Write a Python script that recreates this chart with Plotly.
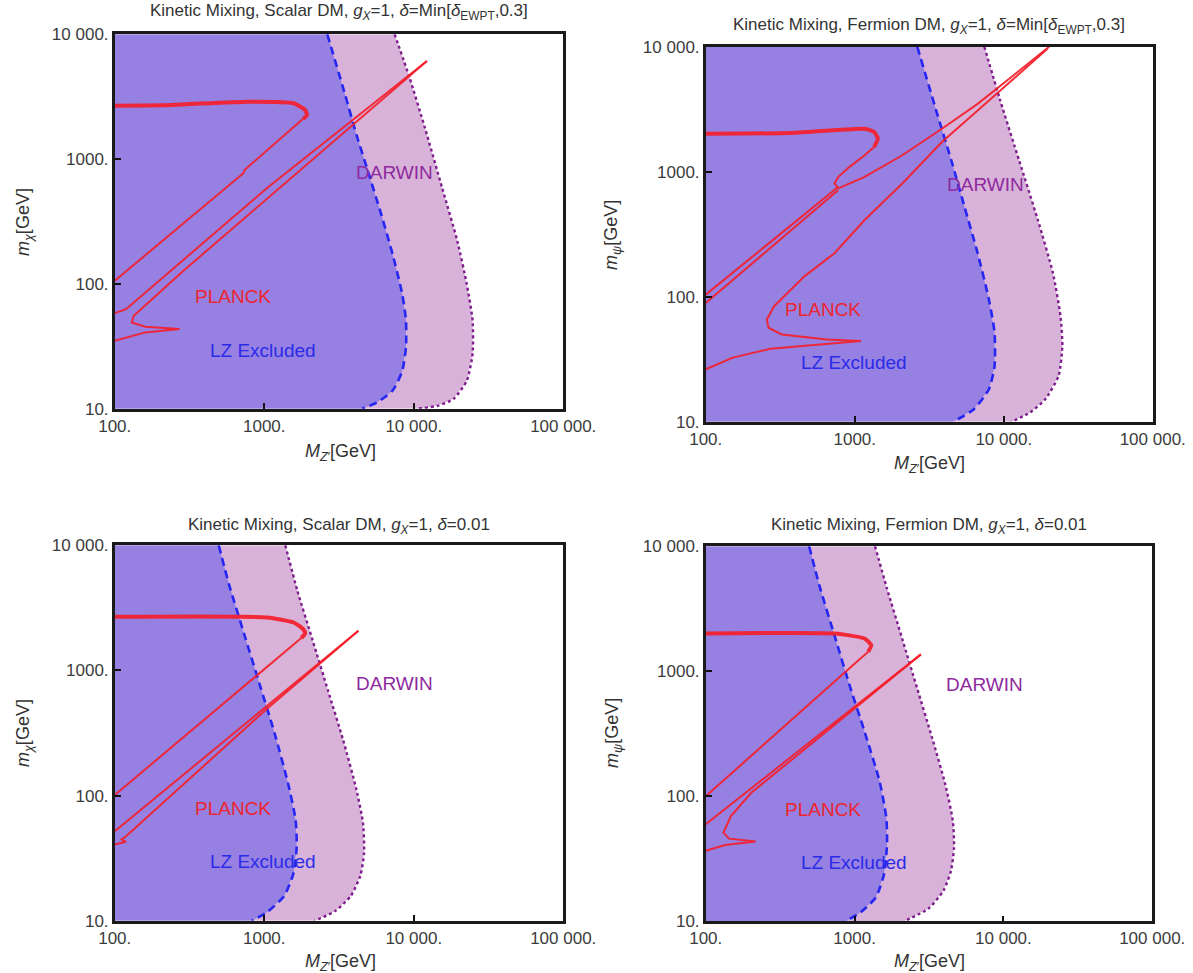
import math
import plotly.graph_objects as go

# ---------------- axes / ticks ----------------
X_MIN, X_MAX = 100, 100000
Y_MIN, Y_MAX = 10, 10000
x_tickvals = [100, 1000, 10000, 100000]
x_ticktext = ["100.", "1000.", "10 000.", "100 000."]
y_tickvals = [10, 100, 1000, 10000]
y_ticktext = ["10.", "100.", "1000.", "10 000."]

titles = [
    "Kinetic Mixing, Scalar DM, <i>g</i><sub><i>X</i></sub>=1, <i>δ</i>=Min[<i>δ</i><sub>EWPT</sub>,0.3]",
    "Kinetic Mixing, Fermion DM, <i>g</i><sub><i>X</i></sub>=1, <i>δ</i>=Min[<i>δ</i><sub>EWPT</sub>,0.3]",
    "Kinetic Mixing, Scalar DM, <i>g</i><sub><i>X</i></sub>=1, <i>δ</i>=0.01",
    "Kinetic Mixing, Fermion DM, <i>g</i><sub><i>X</i></sub>=1, <i>δ</i>=0.01",
]
ylabels = [
    "<i>m</i><sub><i>χ</i></sub>[GeV]",
    "<i>m</i><sub><i>ψ</i></sub>[GeV]",
    "<i>m</i><sub><i>χ</i></sub>[GeV]",
    "<i>m</i><sub><i>ψ</i></sub>[GeV]",
]
xlabel = "<i>M</i><sub><i>Z</i>\u2032</sub>[GeV]"

# ---------------- panel 1: scalar, delta=Min[dEWPT,0.3] ----------------
p1_lz_x = [2640, 3480, 4140, 4940, 6060, 7230, 8370, 8870, 8870, 8370, 7230, 5720, 4520]
p1_lz_y = [10000, 3260, 1560, 800, 360, 172, 83, 51, 31, 20, 14, 11.3, 10]
p1_darwin_x = [7450, 9410, 11890, 15490, 19580, 22650, 24750, 24750, 22650, 18470, 14600, 10570]
p1_darwin_y = [10000, 4430, 1770, 587, 220, 99, 51, 27.5, 16.8, 12, 10.6, 10]
p1_top_thick_x = [100, 241, 778, 1574, 1876, 1932, 1820]
p1_top_thick_y = [2680, 2716, 2884, 2800, 2477, 2259, 2100]
p1_top_thin_x = [1820, 740, 725, 100]
p1_top_thin_y = [2100, 820, 770, 106]
p1_band_a_x = [100, 119, 1045, 12250]
p1_band_a_y = [58.3, 62.8, 587, 6095]
p1_band_b_x = [100, 160, 271, 160, 130, 134, 287, 3795, 12250]
p1_band_b_y = [35.1, 40.9, 43.5, 45.4, 49.1, 55.6, 127, 1823, 6095]

# ---------------- panel 2: fermion, delta=Min[dEWPT,0.3] ----------------
p2_lz_x = [2630, 3520, 4445, 5450, 6680, 7950, 8675, 8675, 7950, 6300, 4575]
p2_lz_y = [10000, 3090, 1236, 525, 223, 95, 51.5, 27.9, 18.2, 12.6, 10]
p2_darwin_x = [7410, 9470, 12670, 16940, 21380, 24030, 24740, 23330, 19040, 15080, 11270]
p2_darwin_y = [10000, 3715, 1236, 411, 155, 70, 40.3, 23.3, 15.2, 11.9, 10]
p2_top_thick_x = [100, 364, 1165, 1349, 1429, 1349]
p2_top_thick_y = [2015, 2042, 2208, 2080, 1841, 1578]
p2_top_thin_x = [1349, 1165, 923, 776, 732, 776]
p2_top_thin_y = [1578, 1355, 1094, 910, 805, 736]
p2_line_c_x = [776, 1165, 2085, 3846, 6680, 20180]
p2_line_c_y = [736, 910, 1355, 2208, 3490, 10000]
p2_band_a_x = [100, 776]
p2_band_a_y = [104, 758]
p2_band_b_x = [100, 776]
p2_band_b_y = [89.3, 713]
p2_low_x = [100, 152, 272, 651, 1100, 651, 324, 264, 257, 288, 459, 731, 1165, 2085, 3846, 6680, 19590]
p2_low_y = [26.3, 32.6, 38.4, 41.6, 44.2, 45.6, 49.9, 56.5, 65.8, 84, 145.6, 223, 411, 805, 1730, 3090, 9580]

# ---------------- panel 3: scalar, delta=0.01 ----------------
p3_lz_x = [496, 581, 734, 929, 1174, 1441, 1620, 1649, 1573, 1360, 1044, 826]
p3_lz_y = [10000, 4870, 1952, 782, 313, 126, 64.2, 39.4, 24.2, 15.8, 11.7, 10]
p3_darwin_x = [1383, 1668, 2110, 2668, 3373, 4140, 4575, 4655, 4390, 3793, 2998, 2172]
p3_darwin_y = [10000, 4310, 1729, 692, 277, 111, 60.4, 34.9, 22.8, 15.8, 12.0, 10]
p3_top_thick_x = [100, 1044, 1574, 1820, 1876, 1769]
p3_top_thick_y = [2680, 2650, 2416, 2138, 1977, 1815]
p3_top_thin_x = [1769, 100]
p3_top_thin_y = [1815, 101]
p3_band_a_x = [4265, 1044, 100]
p3_band_a_y = [2074, 520, 51.9]
p3_band_b_x = [4265, 1044, 119, 111, 119, 100]
p3_band_b_y = [2074, 495, 47.3, 44.6, 42.7, 40.6]

# ---------------- panel 4: fermion, delta=0.01 ----------------
p4_lz_x = [495, 580, 732, 924, 1166, 1471, 1633, 1652, 1577, 1388, 1100, 871]
p4_lz_y = [10000, 4860, 1944, 777, 330, 132, 67.4, 41.3, 23.8, 15.5, 11.8, 10]
p4_darwin_x = [1372, 1652, 2086, 2632, 3322, 4072, 4575, 4656, 4444, 3954, 3133, 2147]
p4_darwin_y = [10000, 4575, 1828, 731, 292, 124, 63.4, 38.9, 25.3, 17.6, 12.6, 10]
p4_top_thick_x = [100, 732, 1166, 1294, 1236]
p4_top_thick_y = [2004, 2004, 1828, 1618, 1432]
p4_top_thin_x = [1236, 1100, 100]
p4_top_thin_y = [1432, 1268, 100]
p4_band_a_x = [2790, 100]
p4_band_a_y = [1365, 59.6]
p4_band_b_x = [2790, 731, 203, 147.6, 131.5, 143.5, 216, 135, 100]
p4_band_b_y = [1365, 373, 107, 69.5, 51.2, 45.8, 43.4, 40.8, 36.6]

# text label positions (GeV)
planck_pos = [(615, 79), (614, 79), (615, 79.4), (614, 78.5)]
lz_pos = [(984, 29.2), (990, 29.7), (984, 30), (990, 29.5)]
darwin_pos = [(7450, 787), (7500, 796), (7450, 793), (7500, 787)]

panels = [
    dict(lz=(p1_lz_x, p1_lz_y), dw=(p1_darwin_x, p1_darwin_y),
         thick=[(p1_top_thick_x, p1_top_thick_y)],
         thin=[(p1_top_thin_x, p1_top_thin_y), (p1_band_a_x, p1_band_a_y), (p1_band_b_x, p1_band_b_y)]),
    dict(lz=(p2_lz_x, p2_lz_y), dw=(p2_darwin_x, p2_darwin_y),
         thick=[(p2_top_thick_x, p2_top_thick_y)],
         thin=[(p2_top_thin_x, p2_top_thin_y), (p2_line_c_x, p2_line_c_y), (p2_band_a_x, p2_band_a_y),
               (p2_band_b_x, p2_band_b_y), (p2_low_x, p2_low_y)]),
    dict(lz=(p3_lz_x, p3_lz_y), dw=(p3_darwin_x, p3_darwin_y),
         thick=[(p3_top_thick_x, p3_top_thick_y)],
         thin=[(p3_top_thin_x, p3_top_thin_y), (p3_band_a_x, p3_band_a_y), (p3_band_b_x, p3_band_b_y)]),
    dict(lz=(p4_lz_x, p4_lz_y), dw=(p4_darwin_x, p4_darwin_y),
         thick=[(p4_top_thick_x, p4_top_thick_y)],
         thin=[(p4_top_thin_x, p4_top_thin_y), (p4_band_a_x, p4_band_a_y), (p4_band_b_x, p4_band_b_y)]),
]

# ---------------- layout geometry (page pixels of the target picture) ----------------
FIG_W, FIG_H = 1193, 973
PAGE_OFF = 0          # body margin removed by post_script below
LINE_W = 2.5
frames = [(113.5, 564.5, 33, 410), (704.5, 1154, 45.5, 423), (113.5, 564.5, 544, 922), (704.5, 1153.5, 545, 922.5)]
title_px = [(339, 12), (929, 26), (339, 526), (929, 526)]
xlabel_px = [(340, 452), (929, 464), (340, 962), (929, 962)]
ylabel_px = [(24, 222), (613, 235), (24, 733), (613, 733)]


def px2paper_x(px):
    return (px - PAGE_OFF) / FIG_W


def px2paper_y(py):
    return 1 - (py - PAGE_OFF) / FIG_H


LZ_FILL = "#9680E2"
DW_FILL = "#D8B2D8"
LZ_LINE = "#2626F2"
DW_LINE = "#7E1E8C"
RED = "rgba(244,30,42,0.92)"
FONT = "Liberation Sans, Arial, sans-serif"
TICK_COLOR = "#3c3c3c"

fig = go.Figure()
annotations = []
layout_axes = {}

for i, p in enumerate(panels):
    n = "" if i == 0 else str(i + 1)
    xa, ya = "x" + n, "y" + n
    l, r, t, b = frames[i]
    h = LINE_W / 2
    common = dict(ticks="inside", ticklen=6, tickwidth=1.5, tickcolor="#111",
                  showgrid=False, zeroline=False, automargin=False,
                  showline=True, linecolor="#1a1a1a", linewidth=LINE_W, mirror=True,
                  tickfont=dict(family=FONT, size=17, color=TICK_COLOR))
    layout_axes["xaxis" + n] = dict(
        type="log", range=[math.log10(X_MIN), math.log10(X_MAX)],
        domain=[px2paper_x(l + h), px2paper_x(r - h)], anchor=ya,
        tickvals=x_tickvals, ticktext=x_ticktext, **common)
    layout_axes["yaxis" + n] = dict(
        type="log", range=[math.log10(Y_MIN), math.log10(Y_MAX)],
        domain=[px2paper_y(b - h), px2paper_y(t + h)], anchor=xa,
        tickvals=y_tickvals, ticktext=y_ticktext, **common)

    dwx, dwy = p["dw"]
    lzx, lzy = p["lz"]
    fig.add_trace(go.Scatter(x=[X_MIN] + dwx + [X_MIN], y=[Y_MAX] + dwy + [Y_MIN],
                             fill="toself", fillcolor=DW_FILL, mode="none",
                             xaxis=xa, yaxis=ya, showlegend=False, hoverinfo="skip"))
    fig.add_trace(go.Scatter(x=[X_MIN] + lzx + [X_MIN], y=[Y_MAX] + lzy + [Y_MIN],
                             fill="toself", fillcolor=LZ_FILL, mode="none",
                             xaxis=xa, yaxis=ya, showlegend=False, hoverinfo="skip"))
    fig.add_trace(go.Scatter(x=dwx, y=dwy, mode="lines",
                             line=dict(color=DW_LINE, width=2.4, dash="dot", shape="spline", smoothing=0.6),
                             xaxis=xa, yaxis=ya, showlegend=False))
    fig.add_trace(go.Scatter(x=lzx, y=lzy, mode="lines",
                             line=dict(color=LZ_LINE, width=2.6, dash="8px,5px", shape="spline", smoothing=0.6),
                             xaxis=xa, yaxis=ya, showlegend=False))
    for cx, cy in p["thin"]:
        fig.add_trace(go.Scatter(x=cx, y=cy, mode="lines",
                                 line=dict(color=RED, width=2),
                                 xaxis=xa, yaxis=ya, showlegend=False))
    for cx, cy in p["thick"]:
        fig.add_trace(go.Scatter(x=cx, y=cy, mode="lines",
                                 line=dict(color=RED, width=4, shape="spline", smoothing=0.5),
                                 xaxis=xa, yaxis=ya, showlegend=False))

    for txt, pos, col in [("PLANCK", planck_pos[i], "#EC2530"),
                          ("LZ Excluded", lz_pos[i], "#2B2BE8"),
                          ("DARWIN", darwin_pos[i], "#8E2A9E")]:
        annotations.append(dict(x=math.log10(pos[0]), y=math.log10(pos[1]), xref=xa, yref=ya,
                                text=txt, showarrow=False, xanchor="center", yanchor="middle",
                                font=dict(family=FONT, size=19, color=col)))
    tx, ty = title_px[i]
    annotations.append(dict(x=px2paper_x(tx), y=px2paper_y(ty), xref="paper", yref="paper",
                            text=titles[i], showarrow=False, xanchor="center", yanchor="middle",
                            font=dict(family=FONT, size=17, color="#333")))
    lx, ly = xlabel_px[i]
    annotations.append(dict(x=px2paper_x(lx), y=px2paper_y(ly), xref="paper", yref="paper",
                            text=xlabel, showarrow=False, xanchor="center", yanchor="middle",
                            font=dict(family=FONT, size=18, color="#333")))
    yx, yy = ylabel_px[i]
    annotations.append(dict(x=px2paper_x(yx), y=px2paper_y(yy), xref="paper", yref="paper",
                            text=ylabels[i], showarrow=False, textangle=-90,
                            xanchor="center", yanchor="middle",
                            font=dict(family=FONT, size=18, color="#333")))

fig.update_layout(width=FIG_W, height=FIG_H,
                  margin=dict(l=0, r=0, t=0, b=0, pad=0, autoexpand=False),
                  paper_bgcolor="white", plot_bgcolor="white",
                  annotations=annotations, **layout_axes)
fig.write_html("out.html", config={"displayModeBar": False},
               post_script="document.body.style.margin='0px';document.body.style.overflow='hidden';")
